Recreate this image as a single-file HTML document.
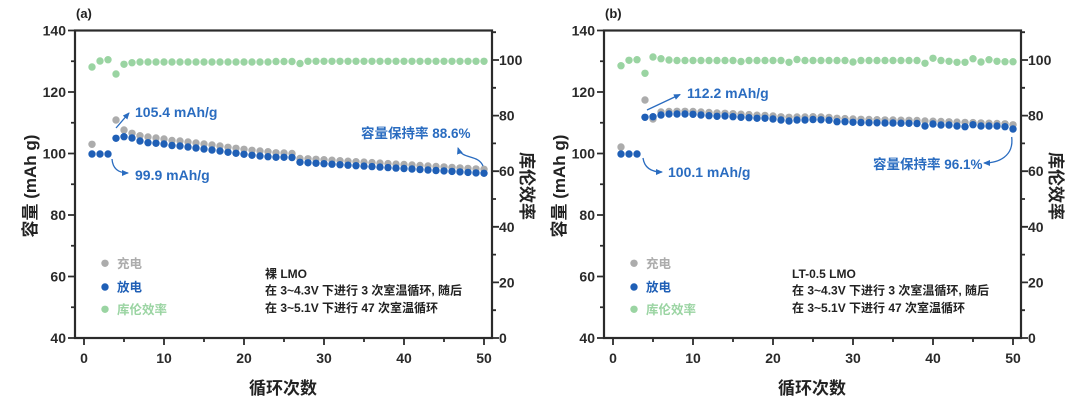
<!DOCTYPE html>
<html><head><meta charset="utf-8">
<style>
html,body{margin:0;padding:0;background:#fff;}
svg{display:block;}
text{font-family:"Liberation Sans","Noto Sans CJK SC",sans-serif;font-weight:bold;}
.tk{font-size:14px;fill:#2a2a2a;}
.ax{font-size:17px;fill:#222;}
.an{font-size:14px;fill:#2a6cc0;}
.cj{font-size:13.5px;fill:#2a6cc0;}
.lg{font-size:12.5px;}
.nt{font-size:12px;fill:#222;}
.gn circle{fill:#9ad4a2;}
.gy circle{fill:#acacac;}
.bl circle{fill:#1f5fb6;}
</style></head>
<body>
<svg width="1080" height="405" viewBox="0 0 1080 405" xmlns="http://www.w3.org/2000/svg">
<defs>
<marker id="ah" markerWidth="7" markerHeight="7" refX="6" refY="3.5" orient="auto" markerUnits="userSpaceOnUse"><path d="M0,0.5 L7,3.5 L0,6.5 z" fill="#2a6cc0"/></marker>
<g id="axes">
<rect x="75" y="30.5" width="417" height="307.5" fill="none" stroke="#2b2b2b" stroke-width="2.2"/>
<g stroke="#2b2b2b" stroke-width="1.8">
<path d="M68,30.5H75M68,92H75M68,153.5H75M68,215H75M68,276.5H75M68,338H75"/>
<path d="M71,61.25H75M71,122.75H75M71,184.25H75M71,245.75H75M71,307.25H75"/>
<path d="M492,338H499M492,282.4H499M492,226.8H499M492,171.2H499M492,115.6H499M492,60H499"/>
<path d="M492,310.2H496M492,254.6H496M492,199H496M492,143.4H496M492,87.8H496M492,32.2H496"/>
<path d="M84,338V345M164,338V345M244,338V345M324,338V345M404,338V345M484,338V345"/>
<path d="M124,338V342M204,338V342M284,338V342M364,338V342M444,338V342"/>
</g>
<g class="tk" text-anchor="end">
<text x="66" y="35.5">140</text><text x="66" y="97">120</text><text x="66" y="158.5">100</text><text x="66" y="220">80</text><text x="66" y="281.5">60</text><text x="66" y="343">40</text>
</g>
<g class="tk" text-anchor="start">
<text x="499" y="65">100</text><text x="499" y="120.6">80</text><text x="499" y="176.2">60</text><text x="499" y="231.8">40</text><text x="499" y="287.4">20</text><text x="499" y="343">0</text>
</g>
<g class="tk" text-anchor="middle">
<text x="84" y="363">0</text><text x="164" y="363">10</text><text x="244" y="363">20</text><text x="324" y="363">30</text><text x="404" y="363">40</text><text x="484" y="363">50</text>
</g>
<text class="ax" text-anchor="middle" transform="translate(36,186) rotate(-90)">容量 (mAh g)</text>
<text class="ax" text-anchor="middle" transform="translate(521,186) rotate(90)">库伦效率</text>
<text class="ax" text-anchor="middle" x="283" y="394">循环次数</text>
<circle cx="105" cy="263.3" r="3.7" fill="#acacac"/>
<circle cx="105" cy="287" r="3.7" fill="#1f5fb6"/>
<circle cx="105" cy="309.3" r="3.7" fill="#9ad4a2"/>
<text class="lg" x="117" y="268" fill="#acacac">充电</text>
<text class="lg" x="117" y="291.5" fill="#1f5fb6">放电</text>
<text class="lg" x="117" y="314" fill="#9ad4a2">库伦效率</text>
</g>
</defs>

<!-- Chart (a) -->
<g>
<use href="#axes"/>
<text x="76" y="18" style="font-size:13px;fill:#222">(a)</text>
<g class="gn">
<circle cx="92" cy="67" r="3.7"/><circle cx="100" cy="61" r="3.7"/><circle cx="108" cy="59.7" r="3.7"/><circle cx="116" cy="74" r="3.7"/><circle cx="124" cy="64.3" r="3.7"/><circle cx="132" cy="62.7" r="3.7"/>
<circle cx="140" cy="62" r="3.7"/><circle cx="148" cy="62" r="3.7"/><circle cx="156" cy="62" r="3.7"/><circle cx="164" cy="62" r="3.7"/><circle cx="172" cy="62" r="3.7"/><circle cx="180" cy="62" r="3.7"/><circle cx="188" cy="62" r="3.7"/><circle cx="196" cy="62" r="3.7"/><circle cx="204" cy="62" r="3.7"/><circle cx="212" cy="62" r="3.7"/><circle cx="220" cy="62" r="3.7"/><circle cx="228" cy="62" r="3.7"/><circle cx="236" cy="62" r="3.7"/><circle cx="244" cy="62" r="3.7"/><circle cx="252" cy="62" r="3.7"/><circle cx="260" cy="62" r="3.7"/><circle cx="268" cy="62" r="3.7"/><circle cx="276" cy="61.5" r="3.7"/><circle cx="284" cy="61.5" r="3.7"/><circle cx="292" cy="61.5" r="3.7"/><circle cx="300" cy="63.5" r="3.7"/><circle cx="308" cy="61.3" r="3.7"/><circle cx="316" cy="61.3" r="3.7"/><circle cx="324" cy="61.3" r="3.7"/><circle cx="332" cy="61.3" r="3.7"/><circle cx="340" cy="61.3" r="3.7"/><circle cx="348" cy="61.3" r="3.7"/><circle cx="356" cy="61.3" r="3.7"/><circle cx="364" cy="61.3" r="3.7"/><circle cx="372" cy="61.3" r="3.7"/><circle cx="380" cy="61.3" r="3.7"/><circle cx="388" cy="61.3" r="3.7"/><circle cx="396" cy="61.3" r="3.7"/><circle cx="404" cy="61.3" r="3.7"/><circle cx="412" cy="61.3" r="3.7"/><circle cx="420" cy="61.3" r="3.7"/><circle cx="428" cy="61.3" r="3.7"/><circle cx="436" cy="61.3" r="3.7"/><circle cx="444" cy="61.3" r="3.7"/><circle cx="452" cy="61.3" r="3.7"/><circle cx="460" cy="61.3" r="3.7"/><circle cx="468" cy="61.3" r="3.7"/><circle cx="476" cy="61.3" r="3.7"/><circle cx="484" cy="61.3" r="3.7"/>
</g>
<g class="gy">
<circle cx="92" cy="144.3" r="3.7"/><circle cx="116" cy="120" r="3.7"/><circle cx="124" cy="130" r="3.7"/><circle cx="132" cy="133.3" r="3.7"/><circle cx="140" cy="135.7" r="3.7"/><circle cx="148" cy="137" r="3.7"/><circle cx="156" cy="138" r="3.7"/><circle cx="164" cy="139" r="3.7"/><circle cx="172" cy="140.5" r="3.7"/><circle cx="180" cy="141" r="3.7"/><circle cx="188" cy="142" r="3.7"/><circle cx="196" cy="143" r="3.7"/><circle cx="204" cy="144" r="3.7"/><circle cx="212" cy="145" r="3.7"/><circle cx="220" cy="146" r="3.7"/><circle cx="228" cy="147.3" r="3.7"/><circle cx="236" cy="148.3" r="3.7"/><circle cx="244" cy="149.3" r="3.7"/><circle cx="252" cy="150.3" r="3.7"/><circle cx="260" cy="151" r="3.7"/><circle cx="268" cy="151.7" r="3.7"/><circle cx="276" cy="152.8" r="3.7"/><circle cx="284" cy="153" r="3.7"/><circle cx="292" cy="153.5" r="3.7"/><circle cx="300" cy="158.5" r="3.7"/><circle cx="308" cy="158.8" r="3.7"/><circle cx="316" cy="159.3" r="3.7"/><circle cx="324" cy="159.7" r="3.7"/><circle cx="332" cy="160.2" r="3.7"/><circle cx="340" cy="160.7" r="3.7"/><circle cx="348" cy="161.2" r="3.7"/><circle cx="356" cy="161.7" r="3.7"/><circle cx="364" cy="162.1" r="3.7"/><circle cx="372" cy="162.6" r="3.7"/><circle cx="380" cy="163.1" r="3.7"/><circle cx="388" cy="163.6" r="3.7"/><circle cx="396" cy="164.1" r="3.7"/><circle cx="404" cy="164.5" r="3.7"/><circle cx="412" cy="165" r="3.7"/><circle cx="420" cy="165.5" r="3.7"/><circle cx="428" cy="166" r="3.7"/><circle cx="436" cy="166.5" r="3.7"/><circle cx="444" cy="166.9" r="3.7"/><circle cx="452" cy="167.4" r="3.7"/><circle cx="460" cy="167.9" r="3.7"/><circle cx="468" cy="168.4" r="3.7"/><circle cx="476" cy="168.9" r="3.7"/><circle cx="484" cy="169.3" r="3.7"/>
</g>
<g class="bl">
<circle cx="92" cy="154" r="3.7"/><circle cx="100" cy="154" r="3.7"/><circle cx="108" cy="154" r="3.7"/><circle cx="116" cy="138.3" r="3.7"/><circle cx="124" cy="136.7" r="3.7"/><circle cx="132" cy="138" r="3.7"/><circle cx="140" cy="141" r="3.7"/><circle cx="148" cy="142.7" r="3.7"/><circle cx="156" cy="143.3" r="3.7"/><circle cx="164" cy="144" r="3.7"/><circle cx="172" cy="145.5" r="3.7"/><circle cx="180" cy="146" r="3.7"/><circle cx="188" cy="147" r="3.7"/><circle cx="196" cy="148" r="3.7"/><circle cx="204" cy="149" r="3.7"/><circle cx="212" cy="150" r="3.7"/><circle cx="220" cy="151" r="3.7"/><circle cx="228" cy="152.3" r="3.7"/><circle cx="236" cy="153.3" r="3.7"/><circle cx="244" cy="154.3" r="3.7"/><circle cx="252" cy="155.3" r="3.7"/><circle cx="260" cy="156" r="3.7"/><circle cx="268" cy="156.7" r="3.7"/><circle cx="276" cy="157.3" r="3.7"/><circle cx="284" cy="157.3" r="3.7"/><circle cx="292" cy="157.5" r="3.7"/><circle cx="300" cy="162.3" r="3.7"/><circle cx="308" cy="162.8" r="3.7"/><circle cx="316" cy="163.3" r="3.7"/><circle cx="324" cy="163.7" r="3.7"/><circle cx="332" cy="164.2" r="3.7"/><circle cx="340" cy="164.7" r="3.7"/><circle cx="348" cy="165.2" r="3.7"/><circle cx="356" cy="165.7" r="3.7"/><circle cx="364" cy="166.1" r="3.7"/><circle cx="372" cy="166.6" r="3.7"/><circle cx="380" cy="167.1" r="3.7"/><circle cx="388" cy="167.6" r="3.7"/><circle cx="396" cy="168.1" r="3.7"/><circle cx="404" cy="168.5" r="3.7"/><circle cx="412" cy="169" r="3.7"/><circle cx="420" cy="169.5" r="3.7"/><circle cx="428" cy="170" r="3.7"/><circle cx="436" cy="170.5" r="3.7"/><circle cx="444" cy="170.9" r="3.7"/><circle cx="452" cy="171.4" r="3.7"/><circle cx="460" cy="171.9" r="3.7"/><circle cx="468" cy="172.4" r="3.7"/><circle cx="476" cy="172.9" r="3.7"/><circle cx="484" cy="173.3" r="3.7"/>
</g>
<g fill="none" stroke="#2a6cc0" stroke-width="1.3">
<path d="M116,128 L129,113" marker-end="url(#ah)"/>
<path d="M112,159 Q113,173 128,173" marker-end="url(#ah)"/>
<path d="M483,166 C478,154 462,160 458,148" marker-end="url(#ah)"/>
</g>
<text class="an" x="135" y="117">105.4 mAh/g</text>
<text class="an" x="135" y="180">99.9 mAh/g</text>
<text class="cj" x="361" y="138">容量保持率 88.6%</text>
<text class="nt" x="265" y="278">裸 LMO</text>
<text class="nt" x="265" y="294.5">在 3~4.3V 下进行 3 次室温循环, 随后</text>
<text class="nt" x="265" y="312">在 3~5.1V 下进行 47 次室温循环</text>
</g>

<!-- Chart (b) -->
<g transform="translate(529,0)">
<use href="#axes"/>
<text x="76" y="18" style="font-size:13px;fill:#222">(b)</text>
<g class="gn">
<circle cx="92" cy="65.7" r="3.7"/><circle cx="100" cy="60.3" r="3.7"/><circle cx="108" cy="59.7" r="3.7"/><circle cx="116" cy="73.3" r="3.7"/><circle cx="124" cy="57" r="3.7"/><circle cx="132" cy="58.7" r="3.7"/><circle cx="140" cy="60" r="3.7"/><circle cx="148" cy="60.5" r="3.7"/><circle cx="156" cy="60.5" r="3.7"/><circle cx="164" cy="60.5" r="3.7"/><circle cx="172" cy="60.5" r="3.7"/><circle cx="180" cy="60.5" r="3.7"/><circle cx="188" cy="60.5" r="3.7"/><circle cx="196" cy="60.5" r="3.7"/><circle cx="204" cy="60.5" r="3.7"/><circle cx="212" cy="61.5" r="3.7"/><circle cx="220" cy="60.5" r="3.7"/><circle cx="228" cy="60.5" r="3.7"/><circle cx="236" cy="60.5" r="3.7"/><circle cx="244" cy="60.5" r="3.7"/><circle cx="252" cy="60.5" r="3.7"/><circle cx="260" cy="62.3" r="3.7"/><circle cx="268" cy="59.5" r="3.7"/><circle cx="276" cy="60.5" r="3.7"/><circle cx="284" cy="60.5" r="3.7"/><circle cx="292" cy="60.5" r="3.7"/><circle cx="300" cy="60.5" r="3.7"/><circle cx="308" cy="60.5" r="3.7"/><circle cx="316" cy="60.5" r="3.7"/><circle cx="324" cy="62" r="3.7"/><circle cx="332" cy="60.5" r="3.7"/><circle cx="340" cy="60.5" r="3.7"/><circle cx="348" cy="60.5" r="3.7"/><circle cx="356" cy="60.5" r="3.7"/><circle cx="364" cy="60.5" r="3.7"/><circle cx="372" cy="60.5" r="3.7"/><circle cx="380" cy="60.5" r="3.7"/><circle cx="388" cy="60.5" r="3.7"/><circle cx="396" cy="63.3" r="3.7"/><circle cx="404" cy="58.3" r="3.7"/><circle cx="412" cy="60.5" r="3.7"/><circle cx="420" cy="61.3" r="3.7"/><circle cx="428" cy="62.3" r="3.7"/><circle cx="436" cy="62.3" r="3.7"/><circle cx="444" cy="58.7" r="3.7"/><circle cx="452" cy="62" r="3.7"/><circle cx="460" cy="59.7" r="3.7"/><circle cx="468" cy="61.3" r="3.7"/><circle cx="476" cy="61.7" r="3.7"/><circle cx="484" cy="61.7" r="3.7"/>
</g>
<g class="gy">
<circle cx="92" cy="147" r="3.7"/><circle cx="116" cy="100" r="3.7"/><circle cx="124" cy="119" r="3.7"/><circle cx="132" cy="112" r="3.7"/><circle cx="140" cy="111.5" r="3.7"/><circle cx="148" cy="111.3" r="3.7"/><circle cx="156" cy="111.3" r="3.7"/><circle cx="164" cy="111.5" r="3.7"/><circle cx="172" cy="112" r="3.7"/><circle cx="180" cy="112.5" r="3.7"/><circle cx="188" cy="113" r="3.7"/><circle cx="196" cy="113.3" r="3.7"/><circle cx="204" cy="113.7" r="3.7"/><circle cx="212" cy="114.2" r="3.7"/><circle cx="220" cy="114.6" r="3.7"/><circle cx="228" cy="115.2" r="3.7"/><circle cx="236" cy="115.4" r="3.7"/><circle cx="244" cy="116" r="3.7"/><circle cx="252" cy="116.8" r="3.7"/><circle cx="260" cy="117.3" r="3.7"/><circle cx="268" cy="117" r="3.7"/><circle cx="276" cy="117" r="3.7"/><circle cx="284" cy="116.7" r="3.7"/><circle cx="292" cy="117" r="3.7"/><circle cx="300" cy="117.4" r="3.7"/><circle cx="308" cy="118.3" r="3.7"/><circle cx="316" cy="118.6" r="3.7"/><circle cx="324" cy="119" r="3.7"/><circle cx="332" cy="119.3" r="3.7"/><circle cx="340" cy="119.5" r="3.7"/><circle cx="348" cy="119.7" r="3.7"/><circle cx="356" cy="119.9" r="3.7"/><circle cx="364" cy="120" r="3.7"/><circle cx="372" cy="120.2" r="3.7"/><circle cx="380" cy="120.3" r="3.7"/><circle cx="388" cy="120.5" r="3.7"/><circle cx="396" cy="121" r="3.7"/><circle cx="404" cy="121.2" r="3.7"/><circle cx="412" cy="121.5" r="3.7"/><circle cx="420" cy="121.8" r="3.7"/><circle cx="428" cy="122.1" r="3.7"/><circle cx="436" cy="122.4" r="3.7"/><circle cx="444" cy="122.6" r="3.7"/><circle cx="452" cy="122.9" r="3.7"/><circle cx="460" cy="123.2" r="3.7"/><circle cx="468" cy="123.5" r="3.7"/><circle cx="476" cy="123.8" r="3.7"/><circle cx="484" cy="124.8" r="3.7"/>
</g>
<g class="bl">
<circle cx="92" cy="154" r="3.7"/><circle cx="100" cy="154" r="3.7"/><circle cx="108" cy="154" r="3.7"/><circle cx="116" cy="117.3" r="3.7"/><circle cx="124" cy="116.7" r="3.7"/><circle cx="132" cy="115" r="3.7"/><circle cx="140" cy="114" r="3.7"/><circle cx="148" cy="114" r="3.7"/><circle cx="156" cy="114" r="3.7"/><circle cx="164" cy="114.3" r="3.7"/><circle cx="172" cy="115" r="3.7"/><circle cx="180" cy="115.7" r="3.7"/><circle cx="188" cy="116.3" r="3.7"/><circle cx="196" cy="116" r="3.7"/><circle cx="204" cy="116.7" r="3.7"/><circle cx="212" cy="117.3" r="3.7"/><circle cx="220" cy="117.7" r="3.7"/><circle cx="228" cy="118.3" r="3.7"/><circle cx="236" cy="118.3" r="3.7"/><circle cx="244" cy="119" r="3.7"/><circle cx="252" cy="120" r="3.7"/><circle cx="260" cy="121" r="3.7"/><circle cx="268" cy="120" r="3.7"/><circle cx="276" cy="120" r="3.7"/><circle cx="284" cy="119.5" r="3.7"/><circle cx="292" cy="119.8" r="3.7"/><circle cx="300" cy="120.2" r="3.7"/><circle cx="308" cy="121.7" r="3.7"/><circle cx="316" cy="121.7" r="3.7"/><circle cx="324" cy="122.3" r="3.7"/><circle cx="332" cy="122.5" r="3.7"/><circle cx="340" cy="122.7" r="3.7"/><circle cx="348" cy="122.8" r="3.7"/><circle cx="356" cy="123" r="3.7"/><circle cx="364" cy="123" r="3.7"/><circle cx="372" cy="123.2" r="3.7"/><circle cx="380" cy="123.3" r="3.7"/><circle cx="388" cy="123.5" r="3.7"/><circle cx="396" cy="126" r="3.7"/><circle cx="404" cy="124" r="3.7"/><circle cx="412" cy="125" r="3.7"/><circle cx="420" cy="125" r="3.7"/><circle cx="428" cy="126" r="3.7"/><circle cx="436" cy="126.7" r="3.7"/><circle cx="444" cy="124.7" r="3.7"/><circle cx="452" cy="126" r="3.7"/><circle cx="460" cy="126" r="3.7"/><circle cx="468" cy="126" r="3.7"/><circle cx="476" cy="126.7" r="3.7"/><circle cx="484" cy="129" r="3.7"/>
</g>
<g fill="none" stroke="#2a6cc0" stroke-width="1.3">
<path d="M118,110 L151,94.5" marker-end="url(#ah)"/>
<path d="M114,158 Q116,172 133,172" marker-end="url(#ah)"/>
<path d="M482.7,137 C485,156 470,163 455,163" marker-end="url(#ah)"/>
</g>
<text class="an" x="158" y="98">112.2 mAh/g</text>
<text class="an" x="139" y="177">100.1 mAh/g</text>
<text class="cj" x="344" y="169">容量保持率 96.1%</text>
<text class="nt" x="263" y="278">LT-0.5 LMO</text>
<text class="nt" x="263" y="294.5">在 3~4.3V 下进行 3 次室温循环, 随后</text>
<text class="nt" x="263" y="312">在 3~5.1V 下进行 47 次室温循环</text>
</g>
</svg>
</body></html>
